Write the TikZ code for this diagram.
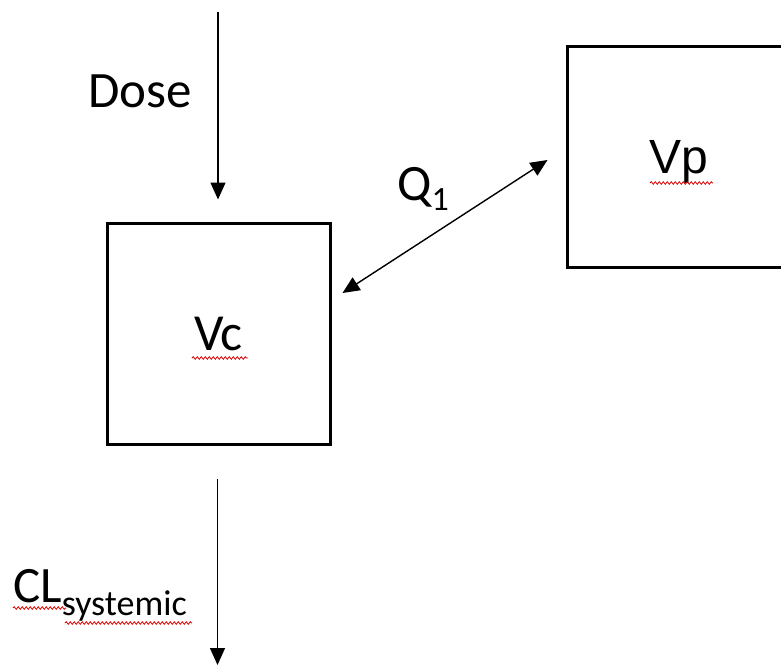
\documentclass[tikz,border=0pt]{standalone}
\usepackage{fontspec}
\setmainfont{Carlito}
\newfontfamily\arialfont{Liberation Sans}
\usetikzlibrary{positioning, arrows.meta, calc, decorations.pathmorphing}

\begin{document}
\begin{tikzpicture}[x=1pt, y=-1pt]
    \tikzset{cmpt/.style={draw=black,line width=3pt,minimum width=223pt,minimum height=221pt,inner sep=0pt,text depth=0pt}, lbl/.style={inner sep=0pt,text depth=0pt,font=\fontsize{51}{60}\selectfont}, arr/.style={-{Triangle[length=17pt,width=15pt]},line width=1.4pt}, dblarr/.style={{Triangle[length=17pt,width=15pt]}-{Triangle[length=17pt,width=15pt]},line width=1.4pt}, squig/.style={draw=red!85!black,line width=0.8pt,decorate,decoration={snake,amplitude=1.3pt,segment length=4pt}}}
    \useasboundingbox (0,0) rectangle (781,666);
    \node[cmpt,font=\fontsize{52}{60}\selectfont] (vc) at (218.5,333.5) {Vc};
    \node[cmpt,minimum height=220pt,font=\arialfont\fontsize{48}{58}\selectfont] (vp) at (678.5,157) {Vp};
    \node[lbl] (dose) at (140,91.5) {Dose};
    \node[lbl,anchor=base west] (q1) at (397,200) {Q\raisebox{-10pt}{\fontsize{34}{40}\selectfont 1}};
    \node[lbl,anchor=base west] (cl) at (13,602) {CL\raisebox{-13pt}{\fontsize{36}{40}\selectfont systemic}};
    \coordinate (dosein) at (218,12); \coordinate (clout) at (217.5,665);
    \draw[arr,shorten >=22pt] (dosein) -- (dosein |- vc.north); \draw[arr,shorten <=33pt] (vc.south -| clout) -- (clout);
    \draw[dblarr] ($(vc.east)+(11,-40.5)$) -- ($(vp.west)+(-18,3)$);
    % spell-check marks
    \draw[squig] (192,358) -- (248,358); \draw[squig] (650,183) -- (713,183); \draw[squig] (13,608) -- (66,608); \draw[squig] (65,623) -- (192,623);
\end{tikzpicture}
\end{document}
